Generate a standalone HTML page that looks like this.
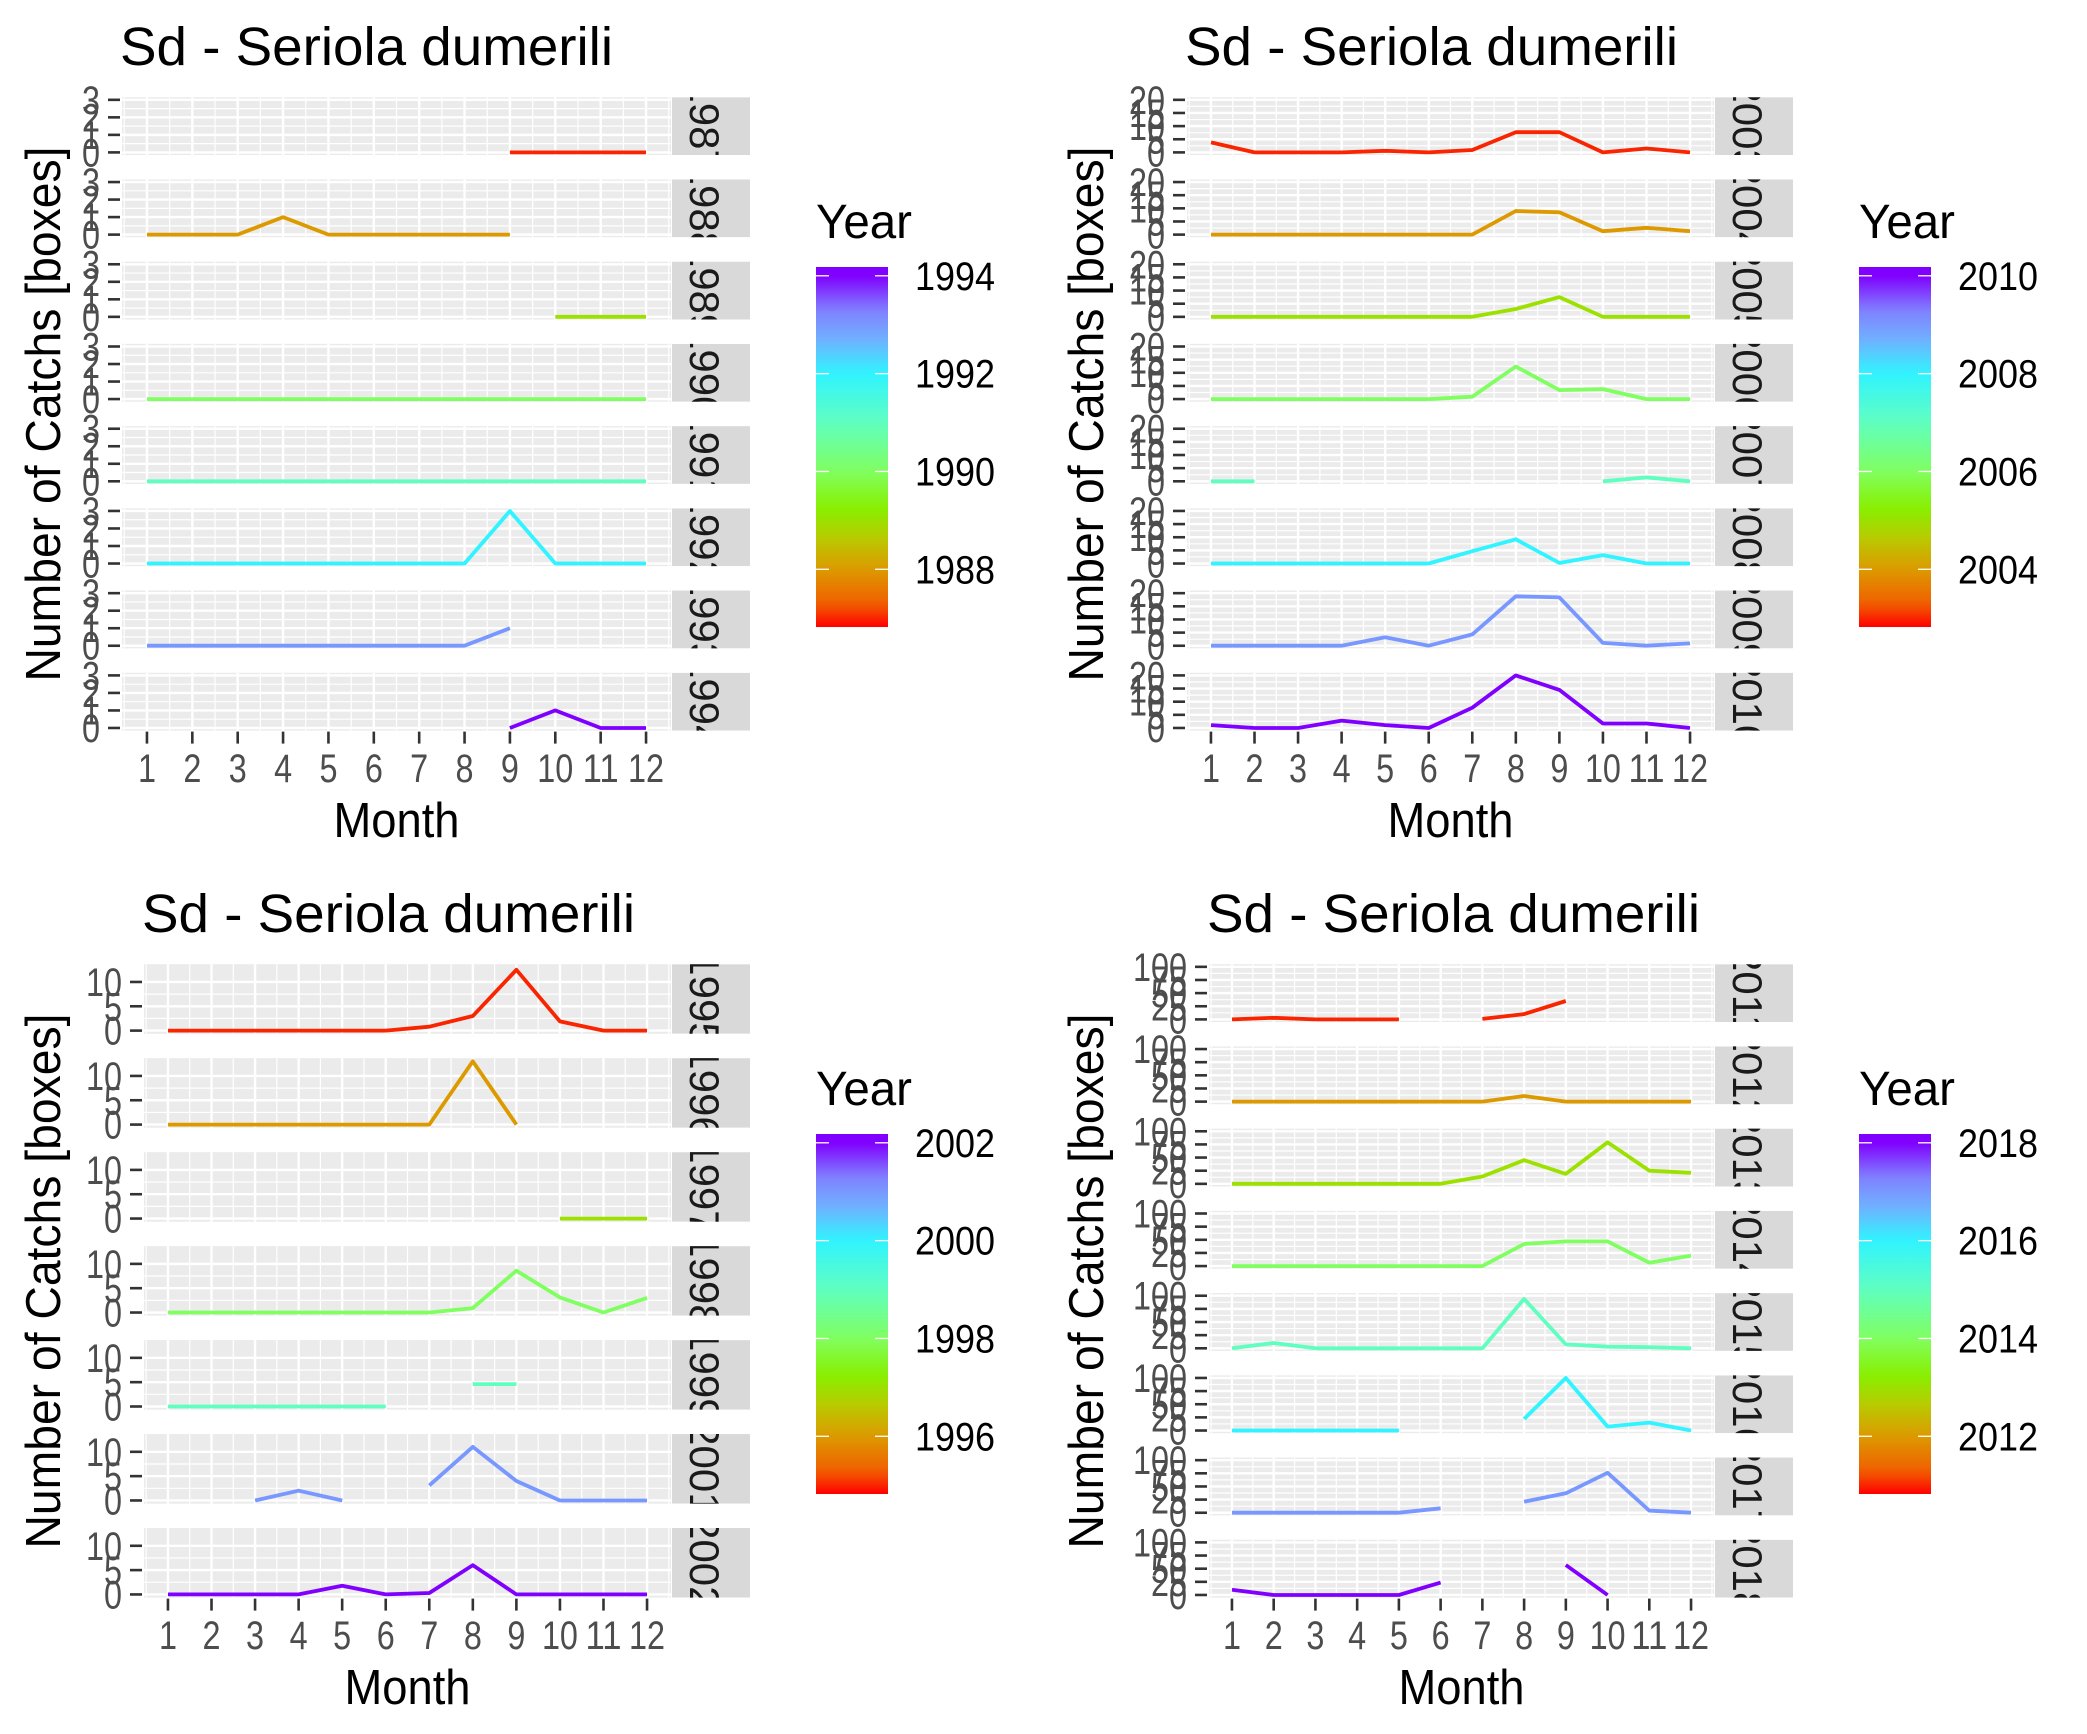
<!DOCTYPE html>
<html><head><meta charset="utf-8"><style>
html,body{margin:0;padding:0;background:#fff;}
svg{display:block;font-family:"Liberation Sans",Arial,sans-serif;}
</style></head><body>
<svg id="root" width="2087" height="1734" viewBox="0 0 2087 1734" xmlns="http://www.w3.org/2000/svg"><defs id="defs"></defs></svg>
<script>
// ---------- data ----------
const months = [1,2,3,4,5,6,7,8,9,10,11,12];
const N = null;
// Top-left quadrant (1987-1994)
const yearsA = [1987,1988,1989,1990,1991,1992,1993,1994];
const catchA1987 = [N,N,N,N,N,N,N,N,0,0,0,0];
const catchA1988 = [0,0,0,1,0,0,0,0,0,N,N,N];
const catchA1989 = [N,N,N,N,N,N,N,N,N,0,0,0];
const catchA1990 = [0,0,0,0,0,0,0,0,0,0,0,0];
const catchA1991 = [0,0,0,0,0,0,0,0,0,0,0,0];
const catchA1992 = [0,0,0,0,0,0,0,0,3,0,0,0];
const catchA1993 = [0,0,0,0,0,0,0,0,1,N,N,N];
const catchA1994 = [N,N,N,N,N,N,N,N,0,1,0,0];
const yTicksA = [0,1,2,3];
const legendA = [1988,1990,1992,1994];
// Top-right quadrant (2003-2010)
const yearsB = [2003,2004,2005,2006,2007,2008,2009,2010];
const catchB2003 = [3.8,0,0,0,0.6,0,0.9,7.7,7.7,0,1.5,0];
const catchB2004 = [0,0,0,0,0,0,0,9,8.5,1.3,2.6,1.3];
const catchB2005 = [0,0,0,0,0,0,0,3,7.5,0,0,0];
const catchB2006 = [0,0,0,0,0,0,0.9,12.4,3.4,3.8,0,0];
const catchB2007 = [0,0,N,N,N,N,N,N,N,0,1.5,0];
const catchB2008 = [0,0,0,0,0,0,4.7,9.2,0.2,3.2,0,0];
const catchB2009 = [0,0,0,0,3.2,0,4.3,18.8,18.4,1.1,0,0.9];
const catchB2010 = [1.1,0,0,2.8,1.1,0,7.7,20,14.5,1.7,1.7,0];
const yTicksB = [0,5,10,15,20];
const legendB = [2004,2006,2008,2010];
// Bottom-left quadrant (1995-2002, no 2000)
const yearsC = [1995,1996,1997,1998,1999,2001,2002];
const catchC1995 = [0,0,0,0,0,0,0.8,3,12.5,1.9,0,0];
const catchC1996 = [0,0,0,0,0,0,0,13,0,N,N,N];
const catchC1997 = [N,N,N,N,N,N,N,N,N,0,0,0];
const catchC1998 = [0,0,0,0,0,0,0,0.9,8.6,3.1,0,3];
const catchC1999 = [0,0,0,0,0,0,N,4.6,4.6,N,N,N];
const catchC2001 = [N,N,0,2,0,N,3.1,11,4,0,0,0];
const catchC2002 = [0,0,0,0,1.8,0,0.3,6,0,0,0,0];
const yTicksC = [0,5,10];
const legendC = [1996,1998,2000,2002];
// Bottom-right quadrant (2011-2018)
const yearsD = [2011,2012,2013,2014,2015,2016,2017,2018];
const catchD2011 = [0,3,0,0,0,N,1,10,35,N,N,N];
const catchD2012 = [0,0,0,0,0,0,0,10.7,0,0,0,0];
const catchD2013 = [0,0,0,0,0,0,14,45,19,79,25,21];
const catchD2014 = [0,0,0,0,0,0,0,42,47,47,6.4,20];
const catchD2015 = [0,10,0,0,0,0,0,94,7.5,3,2,0];
const catchD2016 = [0,0,0,0,0,N,N,22,100,7.5,15,0];
const catchD2017 = [0,0,0,0,0,8.5,N,21,37,76,4,0];
const catchD2018 = [10,0,0,0,0,23.5,N,N,57,0,N,N];
const yTicksD = [0,25,50,75,100];
const legendD = [2012,2014,2016,2018];

const quads = [
  {ox:0, oy:0, L:122, years:yearsA, series:[catchA1987,catchA1988,catchA1989,catchA1990,catchA1991,catchA1992,catchA1993,catchA1994], ticks:yTicksA, legend:legendA, name:'q1987'},
  {ox:1043, oy:0, L:144, years:yearsB, series:[catchB2003,catchB2004,catchB2005,catchB2006,catchB2007,catchB2008,catchB2009,catchB2010], ticks:yTicksB, legend:legendB, name:'q2003'},
  {ox:0, oy:867, L:144, years:yearsC, series:[catchC1995,catchC1996,catchC1997,catchC1998,catchC1999,catchC2001,catchC2002], ticks:yTicksC, legend:legendC, name:'q1995'},
  {ox:1043, oy:867, L:166, years:yearsD, series:[catchD2011,catchD2012,catchD2013,catchD2014,catchD2015,catchD2016,catchD2017,catchD2018], ticks:yTicksD, legend:legendD, name:'q2011'}
];

// ---------- helpers ----------
const NS='http://www.w3.org/2000/svg';
const root=document.getElementById('root');
const defs=document.getElementById('defs');
function mk(tag,parent,attrs){const e=document.createElementNS(NS,tag);for(const k in attrs)e.setAttribute(k,attrs[k]);parent.appendChild(e);return e;}
const stops=[[-0.18,[255,0,0]],[0.3,[240,96,0]],[1.0,[220,154,0]],[1.6,[187,200,0]],[2.25,[136,240,0]],[3.0,[128,255,96]],[4.0,[96,255,192]],[5.0,[48,244,255]],[5.7,[112,176,255]],[6.3,[128,128,255]],[7.0,[128,0,255]],[7.18,[128,0,255]]];
function colAt(o){
  if(o<=stops[0][0])return 'rgb('+stops[0][1]+')';
  for(let i=1;i<stops.length;i++){if(o<=stops[i][0]){const a=stops[i-1],b=stops[i];const t=(o-a[0])/(b[0]-a[0]);return 'rgb('+a[1].map((v,j)=>Math.round(v+(b[1][j]-v)*t)).join(',')+')';}}
  return 'rgb('+stops[stops.length-1][1]+')';
}
const PR=671, SX0=672, SX1=750, TOP=97.2, BOT=730.6, GAP=24.4;

quads.forEach((q,qi)=>{
  const g=mk('g',root,{transform:'translate('+q.ox+','+q.oy+')'});
  
  
  const n=q.years.length;
  const h=(BOT-TOP-(n-1)*GAP)/n;
  const minY=q.years[0], maxY=q.years[n-1];
  const span=maxY-minY;
  const ymax=Math.max(...q.series.flat().filter(v=>v!==null));
  const y0=-0.05*ymax, y1=1.05*ymax;
  const xs=m=>q.L+(m-0.45)/(12.1)*(PR-q.L);
  const title=mk('text',g,{x:q.L-2,y:65,'font-size':54,fill:'#000',textLength:493,lengthAdjust:'spacingAndGlyphs'});
  title.textContent='Sd - Seriola dumerili';
  
  
  const yt=mk('text',g,{x:0,y:0,'font-size':49,fill:'#000','text-anchor':'middle',transform:'translate(60,414) rotate(-90)',textLength:535,lengthAdjust:'spacingAndGlyphs'});
  yt.textContent='Number of Catchs [boxes]';
  
  
  const xt=mk('text',g,{x:(q.L+PR)/2,y:837,'font-size':49,fill:'#000','text-anchor':'middle',textLength:126,lengthAdjust:'spacingAndGlyphs'});
  xt.textContent='Month';
  
  
  months.forEach(m=>{
    mk('line',g,{x1:xs(m),x2:xs(m),y1:BOT+1,y2:BOT+13,stroke:'#333','stroke-width':2.6});
    const s=String(m);
    const t=mk('text',g,{x:xs(m),y:782,'font-size':40,fill:'#4d4d4d','text-anchor':'middle',textLength:s.length*18,lengthAdjust:'spacingAndGlyphs'});
    t.textContent=s;
    
    
  });
  q.years.forEach((yr,i)=>{
    const top=TOP+i*(h+GAP), bot=top+h;
    const ys=v=>bot-(v-y0)/(y1-y0)*h;
    const pg=mk('g',g,{});
    
    
    mk('rect',pg,{x:q.L,y:top,width:PR-q.L,height:h,fill:'#EBEBEB'});
    for(let k=0;k<q.ticks.length-1;k++){const v=(q.ticks[k]+q.ticks[k+1])/2;mk('line',pg,{x1:q.L,x2:PR,y1:ys(v),y2:ys(v),stroke:'#fff','stroke-width':1.2});}
    for(let m=0.5;m<=12.5;m+=1){mk('line',pg,{x1:xs(m),x2:xs(m),y1:top,y2:bot,stroke:'#fff','stroke-width':1.2});}
    q.ticks.forEach(v=>{mk('line',pg,{x1:q.L,x2:PR,y1:ys(v),y2:ys(v),stroke:'#fff','stroke-width':2.4});});
    months.forEach(m=>{mk('line',pg,{x1:xs(m),x2:xs(m),y1:top,y2:bot,stroke:'#fff','stroke-width':2.4});});
    q.ticks.forEach(v=>{
      mk('line',pg,{x1:q.L-14,x2:q.L-2,y1:ys(v),y2:ys(v),stroke:'#333','stroke-width':2.6});
      const s=String(v);
      const t=mk('text',pg,{x:q.L-22,y:ys(v)+14,'font-size':40,fill:'#4d4d4d','text-anchor':'end',textLength:s.length*18,lengthAdjust:'spacingAndGlyphs'});
      t.textContent=s;
      
      
    });
    const cid='clip'+qi+'_'+i;
    const cp=mk('clipPath',defs,{id:cid});
    mk('rect',cp,{x:SX0,y:top,width:SX1-SX0,height:h});
    const sg=mk('g',pg,{'clip-path':'url(#'+cid+')'});
    const sr=mk('rect',sg,{x:SX0,y:top,width:SX1-SX0,height:h,fill:'#D9D9D9'});
    
    
    const st=mk('text',sg,{x:0,y:0,'font-size':42,fill:'#1a1a1a','text-anchor':'middle',transform:'translate(690,'+(top+h/2)+') rotate(90)'});
    st.textContent=String(yr);
    
    
    const data=q.series[i];
    const col=colAt((yr-minY)*7/span);
    let seg=[];
    const segs=[];
    data.forEach((v,j)=>{if(v===null){if(seg.length)segs.push(seg);seg=[];}else seg.push([xs(months[j]),ys(v)]);});
    if(seg.length)segs.push(seg);
    segs.forEach(s=>{
      if(s.length<2)return;
      const p=mk('polyline',pg,{points:s.map(a=>a[0].toFixed(1)+','+a[1].toFixed(1)).join(' '),fill:'none',stroke:col,'stroke-width':3.8,'stroke-linejoin':'round'});
      
      
    });
  });
  const lg=mk('g',g,{});
  
  
  const lt=mk('text',lg,{x:816,y:238,'font-size':48,fill:'#000',textLength:96,lengthAdjust:'spacingAndGlyphs'});
  lt.textContent='Year';
  
  
  const gid='grad'+qi;
  const gr=mk('linearGradient',defs,{id:gid,x1:0,y1:1,x2:0,y2:0});
  const BT=267, BB=627;
  const pxPerYr=(BB-BT)/(span+0.36);
  for(let k=0;k<=40;k++){const o=-0.18+(span+0.36)*k/40;mk('stop',gr,{offset:(k/40).toFixed(3),'stop-color':colAt(o*7/span)});}
  const bar=mk('rect',lg,{x:816,y:BT,width:72,height:BB-BT,fill:'url(#'+gid+')'});
  
  
  const yOfYear=yr=>BB-(yr-minY+0.18)*pxPerYr;
  q.legend.forEach(yr=>{
    const yy=yOfYear(yr);
    mk('line',lg,{x1:816,x2:829,y1:yy,y2:yy,stroke:'#fff','stroke-width':1.3});
    mk('line',lg,{x1:875,x2:888,y1:yy,y2:yy,stroke:'#fff','stroke-width':1.3});
    const t=mk('text',lg,{x:915,y:yy+14,'font-size':40,fill:'#000',textLength:80,lengthAdjust:'spacingAndGlyphs'});
    t.textContent=String(yr);
    
    
  });
});
</script>
</body></html>
